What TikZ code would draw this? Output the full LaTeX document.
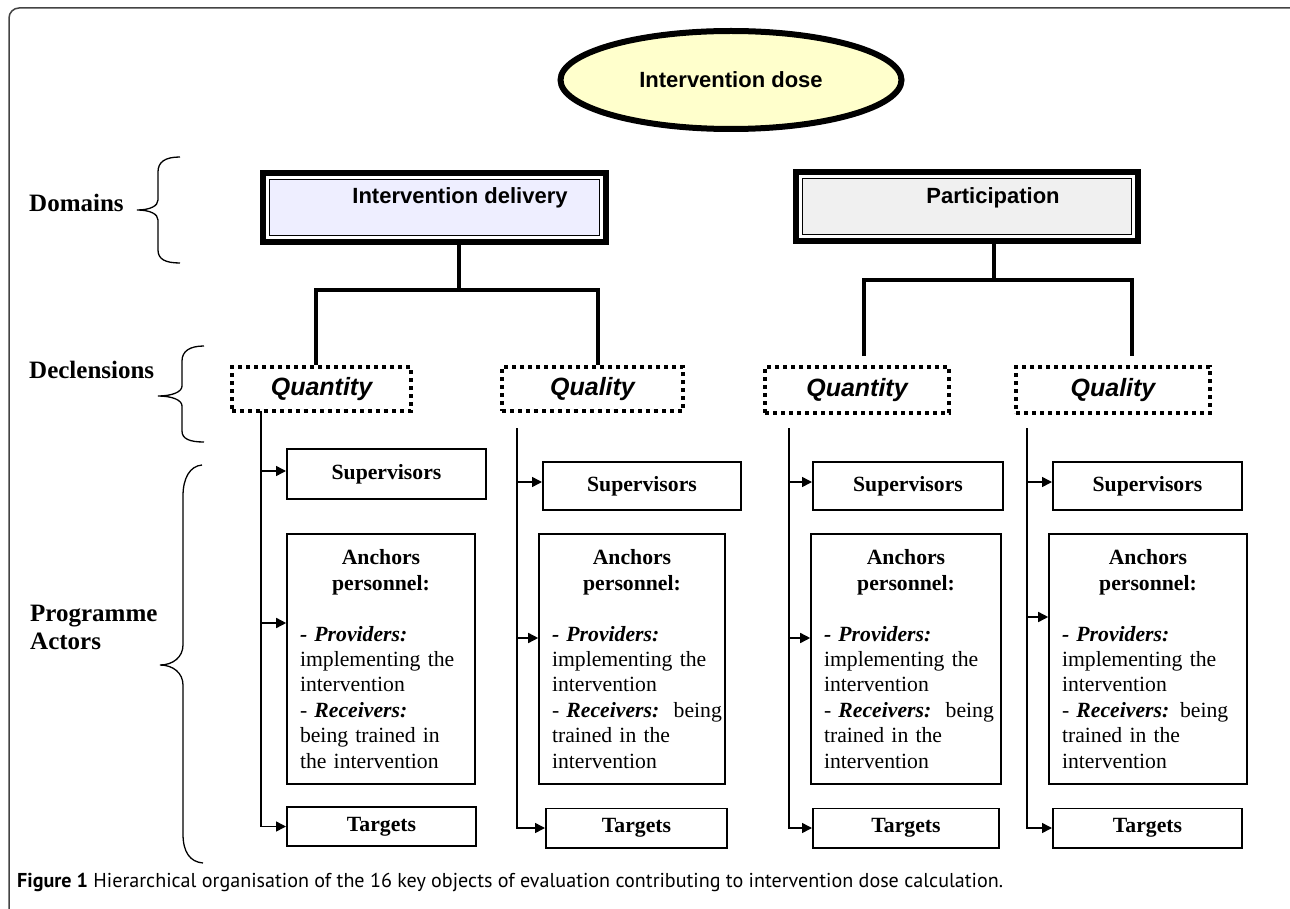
\documentclass[tikz,border=0pt]{standalone}
\usepackage{fontspec}
\setmainfont{Liberation Serif}
\setsansfont{Liberation Sans}
\newfontfamily\capfont{PT Sans}
\usetikzlibrary{arrows.meta,calc,shapes.geometric}
\definecolor{doseyellow}{HTML}{FFFFCC}
\definecolor{lavender}{HTML}{EEEEFF}
\definecolor{lightgr}{HTML}{F0F0F0}
\definecolor{framegray}{HTML}{444444}
\tikzset{
  domainbox/.style={draw, line width=6pt, rectangle, minimum width=343pt, minimum height=69pt, inner sep=0pt, outer sep=0pt},
  domlabel/.style={font=\sffamily\bfseries\fontsize{22}{26}\selectfont},
  declbox/.style={draw, line width=4pt, dash pattern=on 4pt off 4pt, rectangle, inner sep=0pt,
     font=\sffamily\bfseries\itshape\fontsize{25}{30}\selectfont},
  actorbox/.style={draw, line width=1.6pt, rectangle, inner sep=0pt,
     font=\bfseries\fontsize{21.7}{25.4}\selectfont},
  anchorbox/.style={draw, line width=1.6pt, rectangle, inner xsep=13pt, inner ysep=0pt,
     minimum height=250.4pt, text width=#1, align=left,
     font=\fontsize{21.7}{25.4}\selectfont},
  treeline/.style={line width=4.5pt},
  arr/.style={line width=1.5pt, -{Triangle[length=10pt,width=10pt]}},
  bracestyle/.style={line width=1.3pt},
  sidelabel/.style={font=\bfseries\fontsize{25}{28}\selectfont, align=left, inner sep=0pt}
}
\newcommand{\provtext}{\makebox[\hsize][c]{\bfseries Anchors}\\\makebox[\hsize][c]{\bfseries personnel:}\\[25.4pt]}
\begin{document}
\begin{tikzpicture}[x=1pt,y=-1pt]
\useasboundingbox (0,0) rectangle (1290,909);
% frame
\draw[line width=1.5pt, framegray, rounded corners=10pt] (9,920) -- (9,8) -- (1300,8);

% top ellipse
\node[ellipse, draw, line width=6pt, fill=doseyellow, minimum width=341pt, minimum height=98pt, inner sep=0pt,
  font=\sffamily\bfseries\fontsize{22}{26}\selectfont] (dose) at (731,80) {Intervention dose};

% domains
\node[domainbox, fill=lavender, label={[domlabel, xshift=25.5pt, yshift=9.5pt]center:Intervention delivery}] (d1) at (434.5,207.5) {};
\node[domainbox, minimum width=342pt, fill=lightgr, label={[domlabel, xshift=26pt, yshift=8.5pt]center:Participation}] (d2) at (967,206.5) {};
\foreach \n in {d1,d2}{
  \draw[white, line width=2.7pt] ([shift={(4.35,4.35)}]\n.north west) rectangle ([shift={(-4.35,-4.35)}]\n.south east);
  \draw[black, line width=1.3pt] ([shift={(6.35,6.35)}]\n.north west) rectangle ([shift={(-6.35,-6.35)}]\n.south east);
}

% declensions
\node[declbox, minimum width=179pt, minimum height=44pt] (q1) at (321.5,389) {Quantity};
\node[declbox, minimum width=181pt, minimum height=44pt] (q2) at (592.5,389) {Quality};
\node[declbox, minimum width=184pt, minimum height=46pt] (q3) at (857,390) {Quantity};
\node[declbox, minimum width=194pt, minimum height=46pt] (q4) at (1113,390) {Quality};

% tree connectors
\coordinate (j1) at (459,290);
\coordinate (b1) at (316,290);
\coordinate (b2) at (598,290);
\coordinate (j2) at (994,280);
\coordinate (b3) at (864,280);
\coordinate (b4) at (1132,280);
\coordinate (e3) at (864,356);
\coordinate (e4) at (1132,356);
\draw[treeline] (d1.south -| j1) -- (j1);
\draw[treeline] (q1.north -| b1) -- (b1) -- (b2) -- (q2.north -| b2);
\draw[treeline] (d2.south -| j2) -- (j2);
\draw[treeline] (e3) -- (b3) -- (b4) -- (e4);

% actor boxes
\node[actorbox, minimum width=199.4pt, minimum height=50.4pt] (sup1) at (386.5,474) {Supervisors};
\node[actorbox, minimum width=198.4pt, minimum height=48.4pt] (sup2) at (642,486) {Supervisors};
\node[actorbox, minimum width=190.4pt, minimum height=48.4pt] (sup3) at (908,486) {Supervisors};
\node[actorbox, minimum width=189.4pt, minimum height=48.4pt] (sup4) at (1147.5,486) {Supervisors};

\node[anchorbox=162pt] (anc1) at (381,659) {\provtext
\mbox{\textbf{\textit{- Providers:}}}\\
\mbox{implementing the}\\
\mbox{intervention}\\
\mbox{- \textbf{\textit{Receivers:}}}\\
\mbox{being trained in}\\
\mbox{the intervention}};
\node[anchorbox=160pt] (anc2) at (632,659) {\provtext
\mbox{\textbf{\textit{- Providers:}}}\\
\mbox{implementing the}\\
\mbox{intervention}\\
\mbox{- \textbf{\textit{Receivers:}}\ \ being}\\
\mbox{trained in the}\\
\mbox{intervention}};
\node[anchorbox=164pt] (anc3) at (906,659) {\provtext
\mbox{\textbf{\textit{- Providers:}}}\\
\mbox{implementing the}\\
\mbox{intervention}\\
\mbox{- \textbf{\textit{Receivers:}}\ \ being}\\
\mbox{trained in the}\\
\mbox{intervention}};
\node[anchorbox=172pt] (anc4) at (1148,659) {\provtext
\mbox{\textbf{\textit{- Providers:}}}\\
\mbox{implementing the}\\
\mbox{intervention}\\
\mbox{- \textbf{\textit{Receivers:}} being}\\
\mbox{trained in the}\\
\mbox{intervention}};

\node[actorbox, minimum width=189.4pt, minimum height=39.4pt] (tar1) at (381.5,826.5) {Targets};
\node[actorbox, minimum width=181.4pt, minimum height=39.4pt] (tar2) at (636.5,828) {Targets};
\node[actorbox, minimum width=186.4pt, minimum height=39.4pt] (tar3) at (906,828) {Targets};
\node[actorbox, minimum width=189.4pt, minimum height=39.4pt] (tar4) at (1147.5,828) {Targets};

% spines
\coordinate (sp1) at (261,411);
\coordinate (sp2) at (517,428);
\coordinate (sp3) at (789,428);
\coordinate (sp4) at (1027,428);
\draw[arr] (sp1) |- (tar1.west);
\draw[arr] (sp2) |- (tar2.west);
\draw[arr] (sp3) |- (tar3.west);
\draw[arr] (sp4) |- (tar4.west);

\coordinate (s1in) at ([yshift=3pt]sup1.west);
\coordinate (s2in) at ([yshift=4pt]sup2.west);
\coordinate (s3in) at ([yshift=4pt]sup3.west);
\coordinate (s4in) at ([yshift=4pt]sup4.west);
\coordinate (a1in) at ([yshift=36pt]anc1.west);
\coordinate (a2in) at ([yshift=21pt]anc2.west);
\coordinate (a3in) at ([yshift=21pt]anc3.west);
\coordinate (a4in) at ([yshift=42pt]anc4.west);
\foreach \i in {1,2,3,4}{
  \draw[arr] (sp\i |- s\i in) -- (s\i in);
  \draw[arr] (sp\i |- a\i in) -- (a\i in);
}

% side labels
\node[sidelabel, anchor=west] (lbldom) at (29,203) {Domains};
\node[sidelabel, anchor=west] (lbldec) at (29,370) {Declensions};
\node[sidelabel, anchor=west] (lblact) at (30,627) {Programme\\Actors};

% braces
\draw[bracestyle] (180,157) .. controls (165,157) and (158,162) .. (158,172) -- (158,200)
  .. controls (158,206) and (150,210) .. (137,210) .. controls (150,210) and (158,214) .. (158,220)
  -- (158,250) .. controls (158,259) and (165,263) .. (180,263);
\draw[bracestyle] (204,346) .. controls (190,346) and (182,351) .. (182,361) -- (182,386)
  .. controls (182,392) and (172,396) .. (158,396) .. controls (172,396) and (182,400) .. (182,406)
  -- (182,431) .. controls (182,439) and (190,442) .. (204,442);
\draw[bracestyle] (202,465) .. controls (190,466) and (183,478) .. (183,496) -- (183,645)
  .. controls (183,657) and (173,665) .. (160,665) .. controls (173,665) and (183,673) .. (183,685)
  -- (183,834) .. controls (183,852) and (190,862) .. (203,863);

% caption
\node[anchor=base west, inner sep=0pt] (caption) at (17,887) {\resizebox{986pt}{!}{\capfont\fontsize{20}{24}\selectfont\textbf{Figure 1} Hierarchical organisation of the 16 key objects of evaluation contributing to intervention dose calculation.}};
\end{tikzpicture}
\end{document}
